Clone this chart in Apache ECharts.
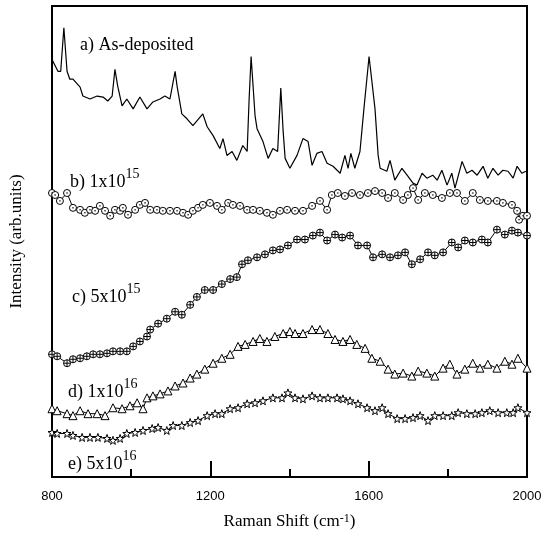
<!DOCTYPE html>
<html>
<head>
<meta charset="utf-8">
<script src="https://cdn.jsdelivr.net/npm/echarts@6/dist/echarts.min.js"></script>
<style>html,body{margin:0;padding:0;background:#fff}#c{width:549px;height:535px}</style>
</head>
<body>
<div id="c"></div>
<script>
// Raman shift ticks
const xTicks = [800, 1200, 1600, 2000];
const labels = ['a) As-deposited', 'b) 1x10', 'c) 5x10', 'd) 1x10', 'e) 5x10'];
const exps = ['', '15', '15', '16', '16'];

// a) As-deposited [Raman shift, intensity (arb.)]
const seriesA = [
[800,422],[815,410],[822,410],[830,454],[838,410],[845,402],[853,402],[871,394],[878,385],[896,382],[914,385],[929,384],[941,380],[952,385],[959,412],[966,395],[977,375],[989,382],[1005,372],[1022,384],[1040,372],[1055,379],[1073,382],[1085,385],[1098,382],[1111,410],[1116,395],[1128,367],[1141,362],[1156,355],[1181,367],[1192,354],[1207,345],[1224,332],[1232,342],[1242,325],[1255,329],[1267,320],[1282,335],[1293,329],[1298,382],[1303,425],[1313,365],[1318,352],[1333,339],[1346,322],[1358,332],[1370,329],[1378,393],[1384,349],[1389,322],[1401,312],[1419,325],[1434,342],[1447,339],[1457,315],[1469,327],[1482,329],[1495,317],[1510,314],[1528,307],[1540,325],[1548,312],[1555,327],[1565,312],[1578,329],[1588,372],[1601,425],[1616,372],[1624,325],[1629,312],[1646,309],[1654,320],[1666,300],[1684,312],[1699,304],[1712,297],[1722,295],[1735,307],[1747,302],[1762,305],[1773,300],[1785,310],[1798,295],[1810,307],[1818,292],[1836,319],[1848,307],[1861,310],[1874,305],[1889,314],[1901,302],[1914,312],[1927,305],[1939,310],[1952,309],[1965,302],[1975,314],[1987,307],[1997,309]
];
// b) 1x10^15
const seriesB = [
[800,287],[808,285],[820,279],[838,287],[853,272],[871,270],[883,267],[896,270],[909,269],[921,274],[934,269],[947,264],[959,270],[972,269],[979,272],[992,265],[1010,270],[1022,275],[1035,277],[1048,270],[1065,270],[1080,269],[1098,269],[1116,269],[1131,267],[1144,265],[1156,269],[1169,272],[1181,275],[1199,277],[1217,274],[1229,270],[1245,277],[1257,275],[1275,274],[1293,270],[1308,270],[1325,269],[1343,267],[1358,265],[1376,269],[1394,270],[1414,269],[1434,269],[1457,274],[1477,279],[1495,270],[1507,285],[1522,287],[1540,284],[1558,287],[1578,285],[1598,287],[1616,289],[1634,287],[1649,282],[1666,287],[1687,280],[1699,285],[1712,292],[1725,280],[1742,287],[1762,285],[1785,282],[1805,287],[1823,287],[1843,279],[1863,287],[1881,280],[1901,279],[1924,279],[1939,277],[1962,275],[1975,269],[1980,260],[1990,264],[2000,264]
];
// c) 5x10^15
const seriesC = [
[800,124],[813,122],[838,115],[853,119],[871,120],[888,122],[904,124],[921,124],[939,125],[954,127],[972,127],[989,127],[1005,132],[1022,137],[1040,142],[1048,149],[1068,155],[1090,160],[1111,167],[1128,164],[1149,174],[1166,182],[1186,189],[1207,189],[1229,195],[1250,200],[1267,202],[1280,215],[1295,219],[1318,222],[1338,225],[1358,229],[1376,230],[1396,234],[1419,240],[1439,240],[1459,244],[1477,247],[1495,239],[1515,245],[1533,242],[1553,244],[1573,234],[1596,234],[1611,222],[1634,225],[1654,222],[1674,224],[1692,227],[1709,215],[1730,220],[1750,227],[1767,224],[1788,227],[1810,237],[1826,232],[1843,239],[1863,237],[1886,240],[1901,237],[1924,250],[1944,245],[1962,249],[1977,247],[2000,244]
];
// d) 1x10^16
const seriesD = [
[800,69],[813,67],[838,64],[853,62],[871,67],[891,64],[914,64],[934,62],[954,70],[977,69],[997,72],[1015,75],[1030,69],[1040,80],[1055,82],[1073,84],[1093,87],[1111,92],[1131,95],[1149,100],[1166,104],[1186,109],[1207,115],[1229,120],[1250,124],[1270,132],[1288,134],[1308,137],[1325,140],[1343,137],[1363,142],[1384,145],[1401,147],[1414,145],[1434,145],[1457,149],[1477,149],[1497,145],[1515,139],[1535,137],[1553,139],[1570,134],[1591,130],[1608,120],[1629,117],[1649,109],[1666,104],[1687,105],[1709,102],[1725,107],[1747,105],[1767,102],[1788,110],[1805,114],[1823,104],[1843,109],[1863,115],[1881,110],[1901,114],[1924,110],[1944,117],[1962,114],[1977,120],[2000,110]
];
// e) 5x10^16
const seriesE = [
[800,45],[813,44],[838,44],[853,42],[876,40],[896,40],[916,40],[939,39],[954,37],[972,39],[989,44],[1010,45],[1030,47],[1053,49],[1068,50],[1090,47],[1106,52],[1128,52],[1149,55],[1169,57],[1192,62],[1212,64],[1229,64],[1250,69],[1270,70],[1293,74],[1313,75],[1333,77],[1358,80],[1381,80],[1396,85],[1414,80],[1434,79],[1457,82],[1477,80],[1497,80],[1520,80],[1535,79],[1553,77],[1573,74],[1596,70],[1616,67],[1634,70],[1649,64],[1672,59],[1692,59],[1712,60],[1730,62],[1750,57],[1767,62],[1788,62],[1810,62],[1826,65],[1848,64],[1869,64],[1886,65],[1906,67],[1927,65],[1949,65],[1965,65],[1977,70],[2000,65]
];

const SERIF = "'Liberation Serif','DejaVu Serif',serif";
const SANS = "'Liberation Sans','DejaVu Sans',sans-serif";

const circleDot = 'path://M0,-5A5,5 0 1,1 0,5A5,5 0 1,1 0,-5Z M-1.2,0L1.2,0';
const circlePlus = 'path://M0,-5A5,5 0 1,1 0,5A5,5 0 1,1 0,-5Z M-5,0L5,0 M0,-5L0,5';
const star = 'path://M0,-5L1.2,-1.6L4.8,-1.5L1.9,0.6L2.9,4L0,2L-2.9,4L-1.9,0.6L-4.8,-1.5L-1.2,-1.6Z';

function mk(name, data, symbol, size) {
  return {
    name: name, type: 'line', data: data,
    symbol: symbol || 'none', symbolSize: size || 0,
    showSymbol: !!symbol,
    lineStyle: { color: '#000', width: symbol ? 1 : 1.2 },
    itemStyle: { color: '#fff', borderColor: '#000', borderWidth: 1 },
    emphasis: { disabled: true },
    silent: true
  };
}

function lab(i, x, y) {
  return {
    type: 'text', left: x, top: y, silent: true,
    style: {
      text: exps[i] ? '{m|' + labels[i] + '}{s|' + exps[i] + '}' : '{m|' + labels[i] + '}',
      rich: {
        m: { fontFamily: SERIF, fontSize: 18, color: '#000', verticalAlign: 'bottom', lineHeight: 24 },
        s: { fontFamily: SERIF, fontSize: 14, color: '#000', verticalAlign: 'top', lineHeight: 14 }
      }
    }
  };
}

const chart = echarts.init(document.getElementById('c'), null, { renderer: 'canvas' });
chart.setOption({
  animation: false,
  backgroundColor: '#fff',
  grid: { left: 52, right: 22, top: 6, bottom: 53, show: true, borderColor: '#000', borderWidth: 2, backgroundColor: 'transparent' },
  xAxis: {
    type: 'value', min: 800, max: 2000, interval: 400,
    axisLine: { show: true, lineStyle: { color: '#000', width: 2 } },
    axisTick: { show: true, inside: true, length: 16, lineStyle: { color: '#000', width: 2 } },
    minorTick: { show: true, splitNumber: 2, length: 8, lineStyle: { color: '#000', width: 2 } },
    splitLine: { show: false },
    axisLabel: { color: '#000', fontFamily: SANS, fontSize: 13, margin: 13,
      formatter: function (v) { return String(v); } },
    name: 'Raman Shift (cm{s|-1})',
    nameLocation: 'middle', nameGap: 36,
    nameTextStyle: { color: '#000', fontFamily: SERIF, fontSize: 17,
      rich: { s: { fontFamily: SERIF, fontSize: 12, color: '#000', verticalAlign: 'top', lineHeight: 10 } } }
  },
  yAxis: {
    type: 'value', min: 0, max: 476,
    axisLine: { show: true, lineStyle: { color: '#000', width: 2 } },
    axisTick: { show: false }, axisLabel: { show: false }, splitLine: { show: false },
    name: 'Intensity (arb.units)', nameLocation: 'middle', nameGap: 27,
    nameTextStyle: { color: '#000', fontFamily: SERIF, fontSize: 17 }
  },
  series: [
    mk('a', seriesA),
    mk('b', seriesB, circleDot, 7),
    mk('c', seriesC, circlePlus, 7),
    mk('d', seriesD, 'triangle', 8),
    mk('e', seriesE, star, 8)
  ],
  graphic: [
    lab(0, 80, 36),
    lab(1, 70, 167),
    lab(2, 72, 282),
    lab(3, 68, 377),
    lab(4, 68, 449)
  ]
});
</script>
</body>
</html>
